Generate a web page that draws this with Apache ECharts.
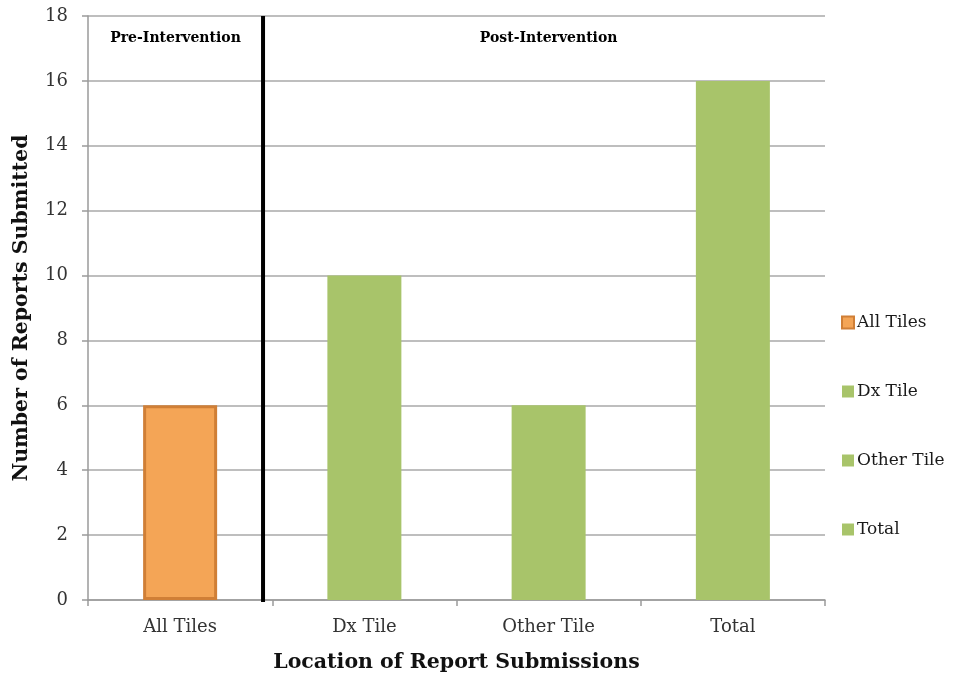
<!DOCTYPE html>
<html>
<head>
<meta charset="utf-8">
<script src="https://cdn.jsdelivr.net/npm/echarts@6/dist/echarts.min.js"></script>
<style>
  html, body { margin: 0; padding: 0; background: #fff; }
  #chart { width: 967px; height: 676px; }
</style>
</head>
<body>
<div id="chart"></div>
<script>
// Report submissions by location, before and after the intervention
const categories = ['All Tiles', 'Dx Tile', 'Other Tile', 'Total'];
const seriesNames = ['All Tiles', 'Dx Tile', 'Other Tile', 'Total'];
const reportCounts = [6, 10, 6, 16];
const yTicks = [0, 2, 4, 6, 8, 10, 12, 14, 16, 18];
// Divider between pre- and post-intervention, in category-band units
const dividerAt = 0.95;

const FONT = '"DejaVu Serif", "Liberation Serif", serif';
const ORANGE = '#f4a556';
const ORANGE_EDGE = '#d07f36';
const GREEN = '#a8c46a';

const chart = echarts.init(document.getElementById('chart'), null, { renderer: 'canvas' });

const barSeries = seriesNames.map((name, i) => ({
  name: name,
  type: 'bar',
  xAxisIndex: 0,
  yAxisIndex: 0,
  barWidth: 74,
  barGap: '-100%',
  data: categories.map((c, j) => (j === i ? reportCounts[j] : '-')),
  itemStyle: i === 0
    ? { color: ORANGE, borderColor: ORANGE_EDGE, borderWidth: 3 }
    : { color: GREEN },
  emphasis: { disabled: true },
  z: 2
}));

const option = {
  animation: false,
  backgroundColor: '#ffffff',
  grid: {
    left: 88, right: 142, top: 16, bottom: 76,
    containLabel: false,
    outerBoundsMode: 'none'
  },
  legend: {
    orient: 'vertical',
    left: 836,
    top: 309,
    itemGap: 52,
    itemWidth: 12,
    itemHeight: 12,
    icon: 'rect',
    textStyle: { fontFamily: FONT, fontSize: 17, color: '#1a1a1a', padding: [0, 0, 0, -2] },
    data: seriesNames
  },
  xAxis: [
    {
      type: 'category',
      data: categories,
      axisLine: { show: true, lineStyle: { color: '#9a9a9a', width: 1.5 } },
      axisTick: { show: true, length: 6, lineStyle: { color: '#9a9a9a', width: 1.5 } },
      axisLabel: { fontFamily: FONT, fontSize: 18, color: '#333', margin: 18 },
      name: 'Location of Report Submissions',
      nameLocation: 'middle',
      nameGap: 52,
      nameTextStyle: { fontFamily: FONT, fontSize: 20.5, fontWeight: 'bold', color: '#111' }
    },
    {
      type: 'value',
      min: 0,
      max: categories.length,
      show: false
    }
  ],
  yAxis: {
    type: 'value',
    min: yTicks[0],
    max: yTicks[yTicks.length - 1],
    interval: yTicks[1] - yTicks[0],
    axisLine: { show: true, lineStyle: { color: '#9a9a9a', width: 1.5 } },
    axisTick: { show: true, length: 6, lineStyle: { color: '#9a9a9a', width: 1.5 } },
    axisLabel: { fontFamily: FONT, fontSize: 18, color: '#333', margin: 20 },
    splitLine: { show: true, lineStyle: { color: '#a8a8a8', width: 1.5 } },
    name: 'Number of Reports Submitted',
    nameLocation: 'middle',
    nameGap: 56,
    nameRotate: 90,
    nameTextStyle: { fontFamily: FONT, fontSize: 20.5, fontWeight: 'bold', color: '#111' }
  },
  series: barSeries.concat([
    {
      name: 'divider',
      type: 'line',
      xAxisIndex: 1,
      yAxisIndex: 0,
      data: [[dividerAt, yTicks[0] - 0.1], [dividerAt, yTicks[yTicks.length - 1]]],
      showSymbol: false,
      symbol: 'none',
      lineStyle: { color: '#000', width: 4 },
      emphasis: { disabled: true },
      silent: true,
      z: 5
    },
    {
      name: 'phase labels',
      type: 'scatter',
      xAxisIndex: 1,
      yAxisIndex: 0,
      symbolSize: 1,
      itemStyle: { opacity: 0 },
      silent: true,
      data: [
        { value: [dividerAt / 2, 17.3], label: { formatter: 'Pre-Intervention' } },
        { value: [2.5, 17.3], label: { formatter: 'Post-Intervention' } }
      ],
      label: {
        show: true,
        position: 'inside',
        fontFamily: FONT,
        fontSize: 14,
        fontWeight: 'bold',
        color: '#000',
        opacity: 1
      },
      z: 6
    }
  ])
};

chart.setOption(option);
</script>
</body>
</html>
